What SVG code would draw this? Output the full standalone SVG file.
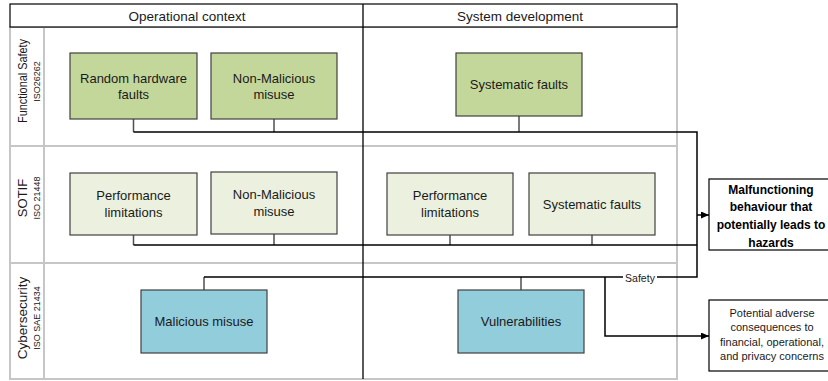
<svg xmlns="http://www.w3.org/2000/svg" width="828" height="381" viewBox="0 0 828 381">
<style>
text{font-family:"Liberation Sans",Arial,sans-serif;fill:#1a1a1a}
.hdr{font-size:13.5px;text-anchor:middle}
.lane{fill:#fff;stroke:#c6c6c6;stroke-width:2}
.lbl{font-size:13px;text-anchor:middle}
.iso{font-size:9px;text-anchor:middle}
.box{stroke:#404040;stroke-width:1.2}
.fs{fill:#c4d79b}
.so{fill:#ebf1de}
.cy{fill:#92cddc}
.bt{font-size:13px;text-anchor:middle}
.out{fill:#fff;stroke:#000;stroke-width:1.2}
.bold{font-size:12px;font-weight:bold;text-anchor:middle;fill:#000}
.small{font-size:11px;text-anchor:middle}
.ln{fill:none;stroke:#000;stroke-width:1.5}
.stub{fill:none;stroke:#505050;stroke-width:1.5}
</style>
<defs>
<marker id="arr" markerUnits="userSpaceOnUse" markerWidth="9" markerHeight="8" refX="8" refY="3.5" orient="auto">
<path d="M0,0 L8,3.5 L0,7 z" fill="#000"/>
</marker>
</defs>
<g id="frame">
<rect class="lane" x="10" y="27" width="667" height="119"/>
<rect class="lane" x="10" y="146" width="667" height="117"/>
<rect class="lane" x="10" y="263" width="667" height="116"/>
<line x1="44" y1="27" x2="44" y2="379" stroke="#c6c6c6" stroke-width="2"/>
<rect x="10" y="4" width="667" height="23" fill="#fff" stroke="#000" stroke-width="1.2"/>
<line x1="363" y1="4" x2="363" y2="379" stroke="#000" stroke-width="1.3"/>
<text class="hdr" x="187" y="20.5">Operational context</text>
<text class="hdr" x="520" y="20.5">System development</text>
<text class="lbl" transform="translate(27,81) rotate(-90)" textLength="84" lengthAdjust="spacingAndGlyphs">Functional Safety</text>
<text class="iso" transform="translate(40,81.5) rotate(-90)">ISO26262</text>
<text class="lbl" transform="translate(27,198) rotate(-90)">SOTIF</text>
<text class="iso" transform="translate(40,198) rotate(-90)">ISO 21448</text>
<text class="lbl" transform="translate(27,318) rotate(-90)" style="font-size:13.5px">Cybersecurity</text>
<text class="iso" transform="translate(40,318) rotate(-90)">ISO SAE 21434</text>
</g>
<g id="connectors">
<path class="stub" d="M133.5,119 V132 M274,119 V132 M519,116 V132"/>
<path class="stub" d="M133.5,235 V245 M274,234 V245 M450,235 V245 M592,235 V245"/>
<path class="stub" d="M204,290 V277 M521,290 V277"/>
<path class="ln" d="M133.5,132 H697 V277 H204"/>
<path class="ln" d="M133.5,245 H697"/>
<path class="ln" d="M697,215 H709" marker-end="url(#arr)"/>
<path class="ln" d="M605,277 V336 H709" marker-end="url(#arr)"/>
<rect x="623" y="270" width="34" height="14" fill="#fff"/>
<text x="640" y="281.5" font-size="10.5" text-anchor="middle">Safety</text>
</g>
<g id="random-hardware-faults">
<rect class="box fs" x="70" y="53" width="127" height="66"/>
<text class="bt" x="133.5" y="82.5">Random hardware</text>
<text class="bt" x="133.5" y="98.5">faults</text>
</g>
<g id="non-malicious-misuse-fs">
<rect class="box fs" x="211" y="53" width="126" height="66"/>
<text class="bt" x="274" y="82.5">Non-Malicious</text>
<text class="bt" x="274" y="98.5">misuse</text>
</g>
<g id="systematic-faults-fs">
<rect class="box fs" x="456" y="53" width="126" height="63"/>
<text class="bt" x="519" y="89">Systematic faults</text>
</g>
<g id="performance-limitations-op">
<rect class="box so" x="70" y="173" width="127" height="62"/>
<text class="bt" x="133.5" y="200">Performance</text>
<text class="bt" x="133.5" y="216.5">limitations</text>
</g>
<g id="non-malicious-misuse-sotif">
<rect class="box so" x="211" y="172" width="126" height="62"/>
<text class="bt" x="274" y="199">Non-Malicious</text>
<text class="bt" x="274" y="215.5">misuse</text>
</g>
<g id="performance-limitations-sd">
<rect class="box so" x="387" y="173" width="126" height="62"/>
<text class="bt" x="450" y="200">Performance</text>
<text class="bt" x="450" y="216.5">limitations</text>
</g>
<g id="systematic-faults-sotif">
<rect class="box so" x="529" y="173" width="126" height="62"/>
<text class="bt" x="592" y="208.5">Systematic faults</text>
</g>
<g id="malicious-misuse">
<rect class="box cy" x="141" y="290" width="126" height="63"/>
<text class="bt" x="204" y="326">Malicious misuse</text>
</g>
<g id="vulnerabilities">
<rect class="box cy" x="458" y="290" width="126" height="63"/>
<text class="bt" x="521" y="326">Vulnerabilities</text>
</g>
<g id="malfunctioning">
<rect class="out" x="709" y="179" width="128" height="71"/>
<text class="bold" x="771" y="193.5">Malfunctioning</text>
<text class="bold" x="771" y="211.2">behaviour that</text>
<text class="bold" x="771" y="228.9">potentially leads to</text>
<text class="bold" x="771" y="246.5">hazards</text>
</g>
<g id="adverse-consequences">
<rect class="out" x="709" y="300" width="128" height="71"/>
<text class="small" x="772" y="316.5">Potential adverse</text>
<text class="small" x="772" y="331">consequences to</text>
<text class="small" x="772" y="345.5">financial, operational,</text>
<text class="small" x="772" y="360">and privacy concerns</text>
</g>
</svg>
